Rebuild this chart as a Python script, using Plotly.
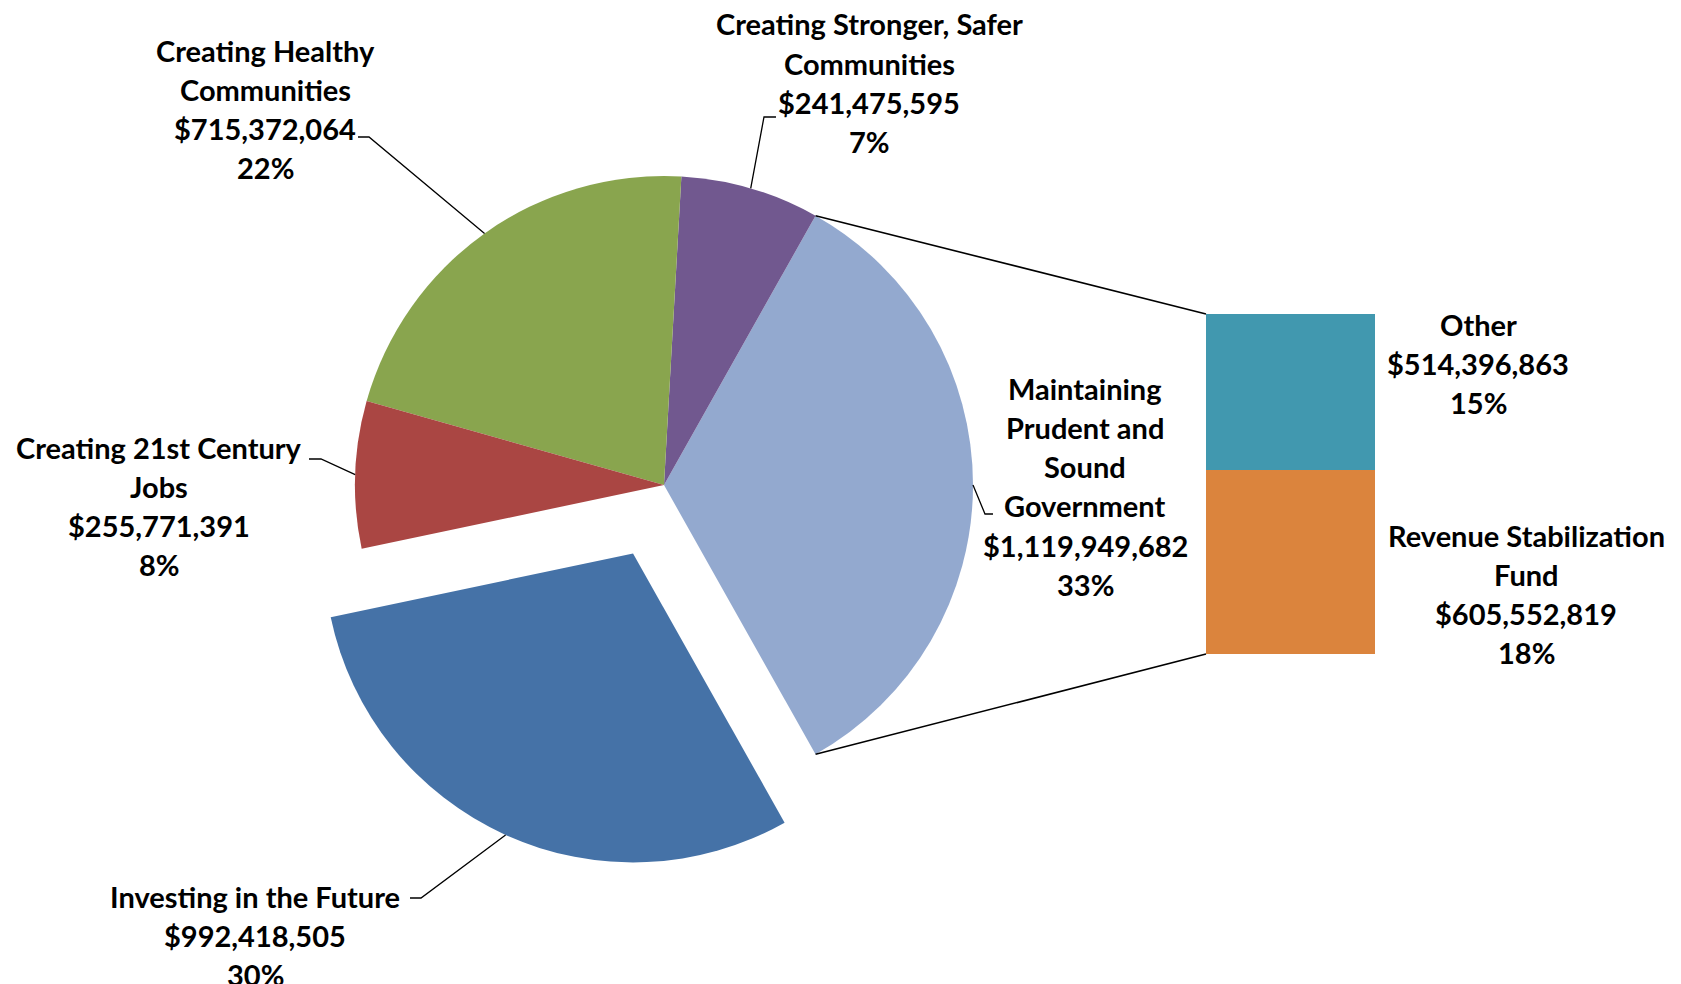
import math
import plotly.graph_objects as go

# ---------------- data ----------------
categories = ["Maintaining Prudent and Sound Government",
              "Creating Stronger, Safer Communities",
              "Creating Healthy Communities",
              "Creating 21st Century Jobs",
              "Investing in the Future"]
values = [1119949682, 241475595, 715372064, 255771391, 992418505]
percents = ["33%", "7%", "22%", "8%", "30%"]
label_lines = [["Maintaining", "Prudent and", "Sound", "Government"],
               ["Creating Stronger, Safer", "Communities"],
               ["Creating Healthy", "Communities"],
               ["Creating 21st Century", "Jobs"],
               ["Investing in the Future"]]
pie_colors = ["#93A9CF", "#71588F", "#89A54E", "#AA4643", "#4572A7"]
pulls = [0, 0, 0, 0, 0.243]

bar_categories = ["Other", "Revenue Stabilization Fund"]
bar_values = [514396863, 605552819]
bar_percents = ["15%", "18%"]
bar_label_lines = [["Other"], ["Revenue Stabilization", "Fund"]]
bar_colors = ["#4198AF", "#DB843D"]

# ---------------- geometry (page pixels) ----------------
W, H = 1681, 984
OFF = 8            # page body margin
PIE_CX, PIE_CY, PIE_R = 664, 485, 309
BAR_X0, BAR_X1, BAR_Y0, BAR_Y1 = 1206, 1375, 314, 654
LINE_GAP = 39.3
FONT = dict(family="Lato", size=29, color="black", weight=700)

def px(x):
    return (x - OFF) / W

def py(y):
    return 1 - (y - OFF) / H

total = sum(values)
shares = [v / total for v in values]
first_span = shares[0] * 360
rotation = 90 - first_span / 2   # first slice centred on 3 o'clock

box = 2 * PIE_R * (1 + max(pulls))

fig = go.Figure()
fig.add_trace(go.Pie(
    labels=categories, values=values, sort=False, direction="counterclockwise",
    rotation=rotation, pull=pulls, textinfo="none", hoverinfo="label+value+percent",
    marker=dict(colors=pie_colors, line=dict(width=0)),
    domain=dict(x=[px(PIE_CX - box / 2), px(PIE_CX + box / 2)],
                y=[py(PIE_CY + box / 2), py(PIE_CY - box / 2)]),
    showlegend=False,
))

# stacked bar (bottom: RSF, top: Other)
for name, val, col in reversed(list(zip(bar_categories, bar_values, bar_colors))):
    fig.add_trace(go.Bar(x=[0], y=[val], name=name, marker=dict(color=col, line=dict(width=0)),
                         width=1, showlegend=False))

# slice mid angles (math convention, degrees)
mid_angles = []
start = -first_span / 2
for s in shares:
    span = s * 360
    mid_angles.append(start + span / 2)
    start += span

def edge_point(i, ang=None):
    a = mid_angles[i] if ang is None else ang
    cx = PIE_CX + pulls[i] * PIE_R * math.cos(math.radians(mid_angles[i]))
    cy = PIE_CY - pulls[i] * PIE_R * math.sin(math.radians(mid_angles[i]))
    return (cx + PIE_R * math.cos(math.radians(a)), cy - PIE_R * math.sin(math.radians(a)))

shapes = []
# connector lines from the first slice edges to the bar
top_pt = edge_point(0, first_span / 2)
bot_pt = edge_point(0, -first_span / 2)
for (x0, y0), (x1, y1) in [(top_pt, (BAR_X0, BAR_Y0)), (bot_pt, (BAR_X0, BAR_Y1))]:
    shapes.append(dict(type="line", xref="paper", yref="paper",
                       x0=px(x0), y0=py(y0), x1=px(x1), y1=py(y1),
                       line=dict(color="black", width=1.6)))

# label blocks: (center x, first line center y, elbow point, stub end)
label_pos = [
    (1085, 388, (985, 514), (993, 514)),
    (869, 24, (764, 117), (776, 117)),
    (265, 50, (369, 137), (358, 137)),
    (159, 447, (321, 459), (309, 459)),
    (255, 896, (421, 898), (410, 898)),
]
bar_label_pos = [(1478, 324), (1526, 535)]

annotations = []

def add_block(lines, cx, y0):
    for k, t in enumerate(lines):
        annotations.append(dict(text=t, x=px(cx), y=py(y0 + k * LINE_GAP), xref="paper", yref="paper",
                                xanchor="center", yanchor="middle", showarrow=False, font=FONT))

for i in range(len(categories)):
    cx, y0, elbow, stub = label_pos[i]
    lines = label_lines[i] + ["${:,}".format(values[i]), percents[i]]
    add_block(lines, cx, y0)
    ex, ey = edge_point(i)
    path = "M {:.5f},{:.5f} L {:.5f},{:.5f} L {:.5f},{:.5f}".format(
        px(ex), py(ey), px(elbow[0]), py(elbow[1]), px(stub[0]), py(stub[1]))
    shapes.append(dict(type="path", xref="paper", yref="paper", path=path,
                       line=dict(color="black", width=1.3)))

for j in range(len(bar_categories)):
    cx, y0 = bar_label_pos[j]
    lines = bar_label_lines[j] + ["${:,}".format(bar_values[j]), bar_percents[j]]
    add_block(lines, cx, y0)

fig.update_layout(
    width=W, height=H, margin=dict(l=0, r=0, t=0, b=0),
    paper_bgcolor="white", plot_bgcolor="rgba(0,0,0,0)",
    barmode="stack", bargap=0,
    xaxis=dict(domain=[px(BAR_X0), px(BAR_X1)], range=[-0.5, 0.5], visible=False, fixedrange=True),
    yaxis=dict(domain=[py(BAR_Y1), py(BAR_Y0)], range=[0, sum(bar_values)], visible=False, fixedrange=True),
    shapes=shapes, annotations=annotations,
)

fig.write_html("out.html")
